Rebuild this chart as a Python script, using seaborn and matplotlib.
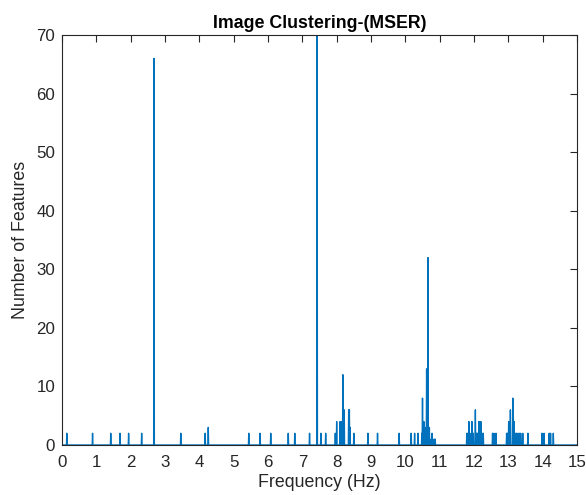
import numpy as np
import pandas as pd
import matplotlib
matplotlib.use("Agg")
import matplotlib.pyplot as plt
import seaborn as sns

# Spike positions (Hz) and feature counts
spike_freq = [0.14, 0.89, 1.42, 1.69, 1.94, 2.32, 2.68, 3.46, 4.17, 4.26,
              5.44, 5.77, 6.08, 6.59, 6.78, 7.21, 7.43, 7.54, 7.68,
              7.96, 8.00, 8.10, 8.14, 8.18, 8.22, 8.35, 8.37, 8.39, 8.50,
              8.91, 9.19, 9.82,
              10.17, 10.27, 10.37, 10.48, 10.50, 10.54, 10.57, 10.62, 10.66,
              10.70, 10.75, 10.78, 10.84, 10.87,
              11.79, 11.82, 11.85, 11.88, 11.94, 11.98, 12.04, 12.07, 12.10,
              12.14, 12.17, 12.20, 12.23, 12.27,
              12.54, 12.58, 12.64,
              12.95, 12.98, 13.01, 13.06, 13.13, 13.17, 13.20, 13.24, 13.28,
              13.32, 13.36, 13.42, 13.57,
              13.98, 14.04, 14.19, 14.23, 14.31]
spike_count = [2, 2, 2, 2, 2, 2, 66, 2, 2, 3,
               2, 2, 2, 2, 2, 2, 75, 2, 2,
               2, 4, 4, 4, 12, 6, 6, 6, 3, 2,
               2, 2, 2,
               2, 2, 2, 2, 8, 4, 3, 13, 32,
               3, 1, 2, 1, 1,
               2, 2, 4, 2, 4, 2, 6, 2, 2,
               4, 4, 4, 2, 2,
               2, 2, 2,
               2, 2, 4, 6, 8, 4, 2, 2, 2,
               2, 2, 2, 2,
               2, 2, 2, 2, 2]

x_ticks = list(range(0, 16))
y_ticks = list(range(0, 71, 10))

# Build the full frequency series (zero where no features)
step = 0.01
freq = np.round(np.arange(0, 15 + step / 2, step), 4)
counts = np.zeros_like(freq)
for f, c in zip(spike_freq, spike_count):
    counts[int(round(f / step))] = c
df = pd.DataFrame({"Frequency": freq, "Count": counts})

sns.set_theme(style="white")
plt.rcParams["font.family"] = ["Liberation Sans", "DejaVu Sans"]

fig = plt.figure(figsize=(5.86, 4.95), dpi=100)
ax = fig.add_axes([62 / 586, 50 / 495, 515 / 586, 410 / 495])

sns.lineplot(data=df, x="Frequency", y="Count", ax=ax, color="#0072BD",
             linewidth=1.0, estimator=None)

ax.set_xlim(0, 15)
ax.set_ylim(0, 70)
ax.set_xticks(x_ticks)
ax.set_yticks(y_ticks)
ax.set_xticklabels([str(t) for t in x_ticks])
ax.set_yticklabels([str(t) for t in y_ticks])

axc = "#262626"
for s in ax.spines.values():
    s.set_visible(True)
    s.set_color(axc)
    s.set_linewidth(0.8)
ax.tick_params(direction="in", length=5, width=0.8, colors=axc,
               top=True, right=True, labelsize=12.2)
ax.tick_params(axis="x", pad=7)
ax.tick_params(axis="y", pad=5)
ax.set_xlabel("Frequency (Hz)", fontsize=12.8, color=axc, labelpad=3)
ax.set_ylabel("Number of Features", fontsize=12.8, color=axc, labelpad=5)
ax.set_title("Image Clustering-(MSER)", fontsize=12.8, fontweight="bold",
             color="black", pad=5)
ax.grid(False)

fig.savefig("out.png", dpi=100)
